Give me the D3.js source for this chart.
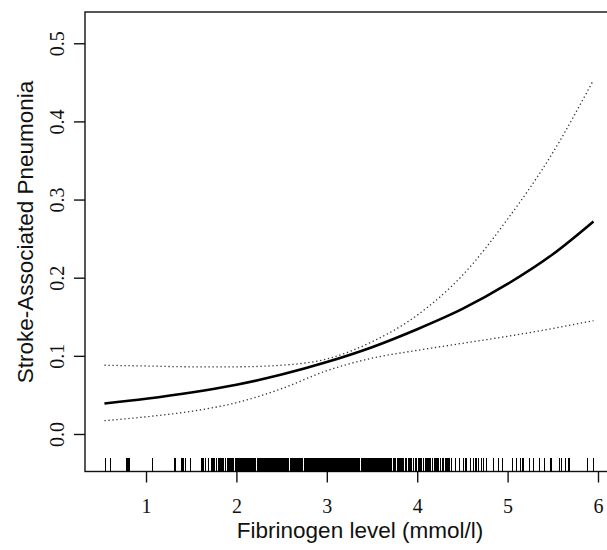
<!DOCTYPE html>
<html>
<head>
<meta charset="utf-8">
<script src="https://cdn.jsdelivr.net/npm/d3@7"></script>
<style>
  body { margin: 0; background: #fff; }
  svg { display: block; }
  .tick-label { font-family: "Liberation Serif", "Times New Roman", serif; font-size: 20px; fill: #111; }
  .axis-title { font-family: "Liberation Sans", Arial, sans-serif; font-size: 22.5px; fill: #111; }
</style>
</head>
<body>
<svg id="chart" width="607" height="550"></svg>
<script>
// fitted curve and 95% band
var fibX     = [0.54, 1.0, 1.5, 2.0, 2.5, 3.0, 3.5, 4.0, 4.5, 5.0, 5.5, 5.95];
var fitProb  = [0.039, 0.045, 0.053, 0.063, 0.076, 0.092, 0.111, 0.134, 0.160, 0.192, 0.230, 0.272];
var upperCI  = [0.088, 0.087, 0.086, 0.086, 0.088, 0.096, 0.118, 0.152, 0.203, 0.275, 0.360, 0.453];
var lowerCI  = [0.017, 0.022, 0.029, 0.040, 0.058, 0.081, 0.097, 0.107, 0.116, 0.125, 0.135, 0.145];

var xTicks = [1, 2, 3, 4, 5, 6];
var yTicks = [0.0, 0.1, 0.2, 0.3, 0.4, 0.5];

// observed fibrinogen values (rug)
var rugValues = [
  0.55, 0.61, 0.78, 0.80, 0.82, 1.07, 1.32, 1.39, 1.41, 1.44, 1.49, 1.61, 1.63, 1.66, 1.69,
  1.72, 1.74, 1.76, 1.78, 1.80, 1.81, 1.83, 1.85, 1.86, 1.88, 1.90, 1.91, 1.93, 1.94, 1.96, 1.97, 1.99,
  2.00, 2.01, 2.02, 2.03, 2.04, 2.05, 2.06, 2.07, 2.08, 2.09, 2.10, 2.11, 2.12, 2.13, 2.14, 2.15, 2.16, 2.17, 2.18, 2.19, 2.20, 2.21,
  2.23, 2.24, 2.25, 2.26, 2.27, 2.28, 2.29, 2.30, 2.31, 2.32, 2.33, 2.34, 2.35, 2.36, 2.37, 2.38, 2.39, 2.40,
  2.41, 2.42, 2.43, 2.44, 2.45, 2.46, 2.47, 2.48, 2.49, 2.50, 2.51, 2.52, 2.53, 2.54, 2.55, 2.56, 2.57, 2.58,
  2.60, 2.61, 2.62, 2.63, 2.64, 2.65, 2.66, 2.67, 2.68, 2.69, 2.70, 2.71, 2.72, 2.73,
  2.75, 2.76, 2.77, 2.78, 2.79, 2.80, 2.81, 2.82, 2.83, 2.84, 2.85, 2.86, 2.87, 2.88,
  2.90, 2.91, 2.92, 2.93, 2.94, 2.95,
  2.97, 2.98, 2.99, 3.00, 3.01, 3.02, 3.03, 3.04, 3.05, 3.06, 3.07, 3.08, 3.09, 3.10, 3.11, 3.12, 3.13, 3.14,
  3.15, 3.16, 3.17, 3.18, 3.19, 3.20, 3.21, 3.22, 3.23, 3.24, 3.25, 3.26, 3.27, 3.28,
  3.30, 3.31, 3.32, 3.33, 3.34, 3.35, 3.36,
  3.38, 3.39, 3.40, 3.41, 3.42, 3.43, 3.44, 3.45, 3.46, 3.47, 3.48, 3.49, 3.50,
  3.52, 3.53, 3.54, 3.55, 3.56, 3.57, 3.58, 3.59, 3.60, 3.61,
  3.63, 3.64, 3.65, 3.66, 3.67, 3.68, 3.69,
  3.71, 3.72, 3.74, 3.75, 3.76, 3.78, 3.79, 3.81, 3.82, 3.84, 3.85, 3.87, 3.88,
  3.91, 3.93, 3.94, 3.96, 3.98, 3.99, 4.01, 4.02, 4.04, 4.05, 4.07, 4.09, 4.10, 4.12, 4.14, 4.15,
  4.17, 4.19, 4.20, 4.22, 4.24, 4.26, 4.28, 4.29, 4.31, 4.32, 4.34, 4.36, 4.38,
  4.42, 4.47, 4.51, 4.54, 4.59, 4.62, 4.65, 4.68, 4.71, 4.73, 4.77, 4.84, 4.90, 4.94,
  5.05, 5.10, 5.14, 5.17, 5.24, 5.29, 5.35, 5.41, 5.48, 5.57, 5.60, 5.64, 5.68, 5.88, 5.95
];

var xTitle = 'Fibrinogen level (mmol/l)';
var yTitle = 'Stroke-Associated Pneumonia';

var plot = { left: 85, right: 613, top: 12, bottom: 471.5 };

var svg = d3.select('#chart');

var x = d3.scaleLinear().domain([0.325, 6.166]).range([plot.left, plot.right]);
var y = d3.scaleLinear().domain([-0.048, 0.54]).range([plot.bottom, plot.top]);

// box (right edge falls outside the picture)
svg.append('rect')
    .attr('x', plot.left).attr('y', plot.top)
    .attr('width', plot.right - plot.left).attr('height', plot.bottom - plot.top)
    .attr('fill', 'none').attr('stroke', '#111').attr('stroke-width', 1.4);

// axes
//
var xAxis = d3.axisBottom(x).tickValues(xTicks).tickSize(11).tickPadding(10).tickFormat(d3.format('d'));
var gx = svg.append('g').attr('transform', 'translate(0,' + plot.bottom + ')').call(xAxis);
gx.select('.domain').remove();
gx.selectAll('line').attr('stroke', '#111').attr('stroke-width', 1.4);
gx.selectAll('text').attr('class', 'tick-label').attr('font-family', null).attr('font-size', null)
    .attr('fill', null).attr('dy', '1em');

var yAxis = d3.axisLeft(y).tickValues(yTicks).tickSize(11).tickFormat(d3.format('.1f'));
var gy = svg.append('g').attr('transform', 'translate(' + plot.left + ',0)').call(yAxis);
gy.select('.domain').remove();
gy.selectAll('line').attr('stroke', '#111').attr('stroke-width', 1.4);
gy.selectAll('text')
    .attr('class', 'tick-label').attr('font-family', null).attr('font-size', null).attr('fill', null)
    .attr('x', null)
    .attr('text-anchor', 'middle')
    .attr('transform', 'translate(-28,0) rotate(-90)')
    .attr('dy', '0.35em');

// rug
//
svg.append('g').attr('shape-rendering', 'crispEdges')
    .selectAll('line.rug').data(rugValues).enter().append('line')
    .attr('class', 'rug')
    .attr('x1', function(d) { return x(d); })
    .attr('x2', function(d) { return x(d); })
    .attr('y1', plot.bottom)
    .attr('y2', plot.bottom - 13.5)
    .attr('stroke', '#000')
    .attr('stroke-width', 1.2);

// curves
//
var line = function(vals) {
    return d3.line()
        .x(function(d, i) { return x(fibX[i]); })
        .y(function(d) { return y(d); })
        .curve(d3.curveMonotoneX)(vals);
};

[upperCI, lowerCI].forEach(function(band) {
    svg.append('path')
        .attr('d', line(band))
        .attr('fill', 'none')
        .attr('stroke', '#333')
        .attr('stroke-width', 1.3)
        .attr('stroke-dasharray', '1.3,2.7');
});

svg.append('path')
    .attr('d', line(fitProb))
    .attr('fill', 'none')
    .attr('stroke', '#000')
    .attr('stroke-width', 2.6);

// titles
//
svg.append('text')
    .attr('class', 'axis-title')
    .attr('x', 360).attr('y', 538)
    .attr('text-anchor', 'middle')
    .text(xTitle);

svg.append('text')
    .attr('class', 'axis-title')
    .attr('transform', 'translate(33,' + 232 + ') rotate(-90)')
    .attr('text-anchor', 'middle')
    .text(yTitle);
</script>
</body>
</html>
